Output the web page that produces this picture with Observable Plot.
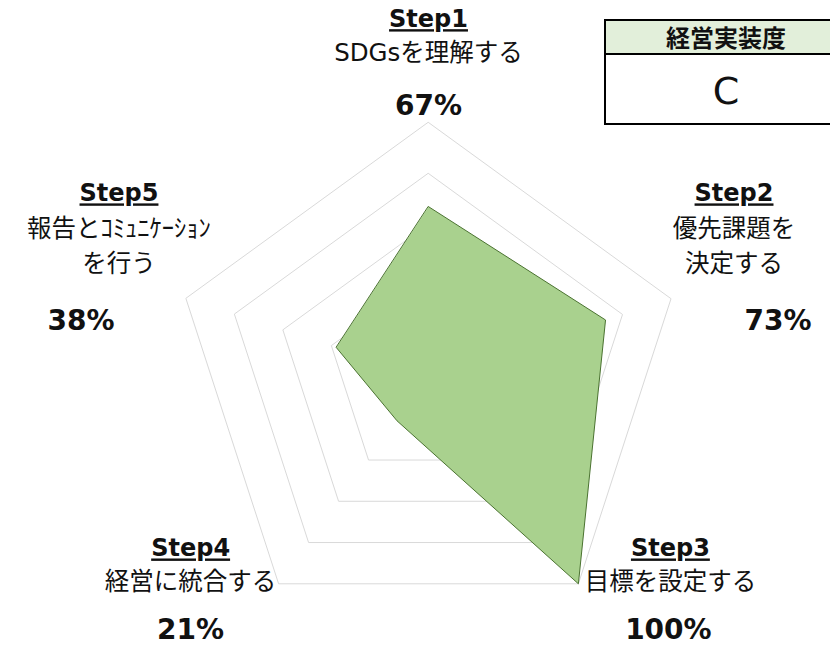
<!DOCTYPE html>
<html>
<head>
<meta charset="utf-8">
<script src="https://cdn.jsdelivr.net/npm/d3@7"></script>
<script src="https://cdn.jsdelivr.net/npm/@observablehq/plot@0.6"></script>
<style>
  html, body { margin: 0; padding: 0; background: #fff; }
  #wrap { position: relative; width: 830px; height: 646px; overflow: hidden; font-family: "DejaVu Sans", "Noto Sans CJK JP", sans-serif; }
  #box { position: absolute; left: 604px; top: 19px; width: 240px; border: 2px solid #000; background: #fff; }
  #box .hd { height: 32px; background: #E2EFDA; border-bottom: 2px solid #000; text-align: center; font-family: "Noto Sans CJK JP", sans-serif; font-weight: bold; font-size: 24px; line-height: 32px; color: #111; }
  #box .bd { height: 68px; text-align: center; font-family: "DejaVu Sans", sans-serif; font-size: 38px; line-height: 68px; color: #111; padding-top: 2px; box-sizing: border-box; }
</style>
</head>
<body>
<div id="wrap"></div>
<script>
// ---- data ----
const steps = ["Step1", "Step2", "Step3", "Step4", "Step5"];
const descriptions = ["SDGsを理解する", "優先課題を\n決定する", "目標を設定する", "経営に統合する", "報告とｺﾐｭﾆｹｰｼｮﾝ\nを行う"];
const values = [0.67, 0.73, 1.00, 0.21, 0.38];
const percentLabels = ["67%", "73%", "100%", "21%", "38%"];
const gridLevels = [0.2, 0.4, 0.6, 0.8, 1.0];
const ratingTitle = "経営実装度";
const rating = "C";

// ---- layout (pixel offsets of labels from each axis end) ----
const R = 255, CX = 428, CY = 377, W = 830, H = 646;
const labelLayout = [
  {title: [0, -103], desc: [0, -69], pct: [0, -16]},
  {title: [63, -105], desc: [63, -70], pct: [107, 22]},
  {title: [92, -35], desc: [92, -2], pct: [90, 46]},
  {title: [-88, -35], desc: [-88, -2], pct: [-88, 46]},
  {title: [-67, -105], desc: [-67, -70], pct: [-105, 22]}
];
const lineStep = 35;
const FONT = '"DejaVu Sans", "Noto Sans CJK JP", sans-serif';

const n = steps.length;
const angle = i => i * 2 * Math.PI / n;
const px = (i, r) => r * Math.sin(angle(i));
const py = (i, r) => r * Math.cos(angle(i));

const dataPts = values.map((v, i) => ({i, x: px(i, v), y: py(i, v)}));
const rings = gridLevels.flatMap(l => steps.map((s, i) => ({level: l, x: px(i, l), y: py(i, l)})));

const titleRows = steps.map((s, i) => ({text: s, x: px(i, 1) + labelLayout[i].title[0] / R, y: py(i, 1) - labelLayout[i].title[1] / R}));
const descRows = descriptions.flatMap((d, i) => d.split("\n").map((t, k) => ({text: t, x: px(i, 1) + labelLayout[i].desc[0] / R, y: py(i, 1) - (labelLayout[i].desc[1] + k * lineStep) / R})));
const pctRows = percentLabels.map((p, i) => ({text: p, x: px(i, 1) + labelLayout[i].pct[0] / R, y: py(i, 1) - labelLayout[i].pct[1] / R}));

const chart = Plot.plot({
  width: W, height: H,
  margin: 0,
  x: {domain: [-CX / R, (W - CX) / R], axis: null},
  y: {domain: [(CY - H) / R, CY / R], axis: null},
  style: {fontFamily: FONT, background: "#fff"},
  marks: [
    Plot.line(rings, {x: "x", y: "y", z: "level", curve: "linear-closed", stroke: "#d9d9d9", strokeWidth: 1}),
    Plot.line(dataPts, {x: "x", y: "y", curve: "linear-closed", fill: "#A9D18E", stroke: "#4a7230", strokeWidth: 1}),
    Plot.text(titleRows, {x: "x", y: "y", text: "text", fontSize: 24, fontWeight: "bold", fill: "#111", textAnchor: "middle", lineAnchor: "middle", className: "steps"}),
    Plot.text(descRows, {x: "x", y: "y", text: "text", fontSize: 24.5, fill: "#111", textAnchor: "middle", lineAnchor: "middle"}),
    Plot.text(pctRows, {x: "x", y: "y", text: "text", fontSize: 28, fontWeight: "bold", fill: "#111", textAnchor: "middle", lineAnchor: "middle"})
  ]
});

const wrap = document.getElementById("wrap");
wrap.appendChild(chart);
d3.select(chart).selectAll("g.steps text").attr("text-decoration", "underline");

const box = document.createElement("div");
box.id = "box";
box.innerHTML = `<div class="hd"></div><div class="bd"></div>`;
box.querySelector(".hd").textContent = ratingTitle;
box.querySelector(".bd").textContent = rating;
wrap.appendChild(box);
</script>
</body>
</html>
